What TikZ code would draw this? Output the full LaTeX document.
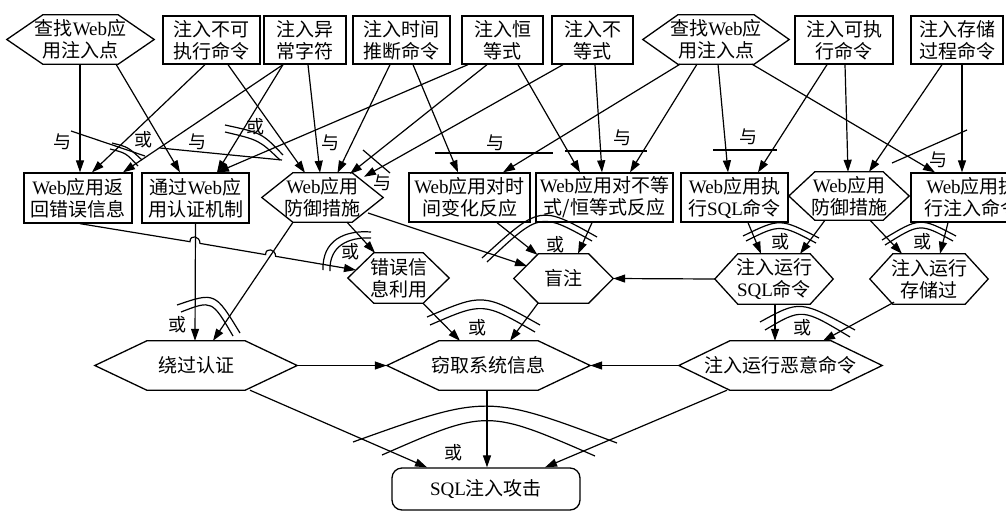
\documentclass[tikz,border=0pt]{standalone}
\usepackage{fontspec}
\setmainfont{Noto Sans CJK SC}
\newfontfamily\latf{Liberation Serif}
\usetikzlibrary{arrows.meta,calc}
\newcommand\Wb{{\latf Web}}
\newcommand\Sq{{\latf SQL}}
\newcommand\hexo[2]{\draw[hexline] (#1.west) -- ([xshift=#2]#1.north west) -- ([xshift=-#2]#1.north east) -- (#1.east) -- ([xshift=-#2]#1.south east) -- ([xshift=#2]#1.south west) -- cycle;}
\begin{document}
\begin{tikzpicture}[x=1pt,y=-1pt,
  box/.style={draw, line width=1.3pt, inner sep=0pt, align=center, font=\fontsize{19}{22}\selectfont},
  hexn/.style={inner sep=0pt, align=center, font=\fontsize{19}{22}\selectfont},
  hexline/.style={line width=1.3pt, line join=miter},
  arr/.style={line width=1.2pt, -{Triangle[length=12pt,width=8pt]}},
  bar/.style={line width=1.2pt},
  lab/.style={font=\fontsize{18}{18}\selectfont, inner sep=0pt}]
\useasboundingbox (0,0) rectangle (1006,512);
% top row
\node[hexn, minimum width=147pt, minimum height=49pt] (T1) at (80.5,39.5) {查找\Wb 应\\用注入点};
\hexo{T1}{36}
\node[box, minimum width=97pt, minimum height=48pt] (T2) at (211.5,40) {注入不可\\执行命令};
\node[box, minimum width=82pt, minimum height=48pt] (T3) at (305,40) {注入异\\常字符};
\node[box, minimum width=97pt, minimum height=48pt] (T4) at (401.5,40) {注入时间\\推断命令};
\node[box, minimum width=81pt, minimum height=48pt] (T5) at (502.5,40) {注入恒\\等式};
\node[box, minimum width=81pt, minimum height=48pt] (T6) at (592.5,40) {注入不\\等式};
\node[hexn, minimum width=146pt, minimum height=49pt] (T7) at (716,39.5) {查找\Wb 应\\用注入点};
\hexo{T7}{35}
\node[box, minimum width=98pt, minimum height=48pt] (T8) at (844,40) {注入可执\\行命令};
\node[box, minimum width=92pt, minimum height=48pt] (T9) at (957,40) {注入存储\\过程命令};
% middle row
\node[box, minimum width=108pt, minimum height=50pt] (M1) at (78,198) {\Wb 应用返\\回错误信息};
\node[box, minimum width=107pt, minimum height=50pt] (M2) at (195.5,198) {通过\Wb 应\\用认证机制};
\node[hexn, minimum width=121pt, minimum height=49pt] (M3) at (322.5,197.5) {\Wb 应用\\防御措施};
\hexo{M3}{31}
\node[box, minimum width=121pt, minimum height=49pt] (M4) at (469.5,197.5) {\Wb 应用对时\\间变化反应};
\node[box, minimum width=137pt, minimum height=49pt] (M5) at (604.5,197.5) {\Wb 应用对不等\\式/恒等式反应};
\node[box, minimum width=107pt, minimum height=49pt] (M6) at (734.5,197.5) {\Wb 应用执\\行\Sq 命令};
\node[hexn, minimum width=120pt, minimum height=48pt] (M7) at (849,196) {\Wb 应用\\防御措施};
\hexo{M7}{26}
\node[box, minimum width=122pt, minimum height=49pt] (M8) at (972,197.5) {\Wb 应用执\\行注入命令};
% third row
\node[hexn, minimum width=101pt, minimum height=50pt] (R1) at (398.5,278) {错误信\\息利用};
\hexo{R1}{26}
\node[hexn, minimum width=99pt, minimum height=49pt] (R2) at (563.5,278.5) {盲注};
\hexo{R2}{24.5}
\node[hexn, minimum width=118pt, minimum height=50pt] (R3) at (774,279) {注入运行\\\Sq 命令};
\hexo{R3}{23}
\node[hexn, minimum width=118pt, minimum height=50pt] (R4) at (929,279) {注入运行\\存储过};
\hexo{R4}{23}
% fourth row
\node[hexn, minimum width=202pt, minimum height=49pt] (F1) at (196,365.5) {绕过认证};
\hexo{F1}{52}
\node[hexn, minimum width=203pt, minimum height=49pt] (F2) at (488.5,365.5) {窃取系统信息};
\hexo{F2}{52}
\node[hexn, minimum width=203pt, minimum height=49pt] (F3) at (780.5,365.5) {注入运行恶意命令};
\hexo{F3}{51}
\node[box, rounded corners=10pt, minimum width=188pt, minimum height=42pt] (S) at (486,489) {\Sq 注入攻击};
% arrows top -> middle
\draw[arr] ($(T1.south)+(-0.5,0)$) -- ($(M1.north)+(2,0)$);
\draw[arr] ($(T1.south)+(35.5,0)$) -- ($(M2.north)+(-15.5,0)$);
\draw[arr] ($(T2.south)+(-6.5,0)$) -- ($(M1.north)+(14,0)$);
\draw[arr] ($(T2.south)+(16.5,0)$) -- ($(M3.north)+(-17.5,0)$);
\draw[arr] ($(T3.south)+(-22,0)$) -- ($(M1.north)+(45,0)$);
\draw[arr] ($(T3.south)+(-22,0)$) -- ($(M2.north)+(21.5,0)$);
\draw[arr] ($(T3.south)+(3,0)$) -- ($(M3.north)+(-2.5,0)$);
\draw[arr] ($(T4.south)+(-11.5,0)$) -- ($(M3.north)+(15,0)$);
\draw[arr] ($(T4.south)+(11.5,0)$) -- ($(M4.north)+(-11.5,0)$);
\draw[arr] ($(T5.south)+(-34.5,0)$) -- ($(M2.north)+(21.5,0)$);
\draw[arr] ($(T5.south)+(-15.5,0)$) -- ($(M3.north)+(27.5,1)$);
\draw[arr] ($(T5.south)+(15.5,0)$) -- ($(M5.north)+(-24.5,0)$);
\draw[arr] ($(T6.south)+(-29.5,0)$) -- ($(M3.north)+(41.5,4)$);
\draw[arr] ($(T6.south)+(2.5,0)$) -- ($(M5.north)+(-2.5,0)$);
\draw[arr] ($(T7.south)+(-36,0)$) -- ($(M4.north)+(33.5,0)$);
\draw[arr] ($(T7.south)+(-19,0)$) -- ($(M5.north)+(25.5,0)$);
\draw[arr] ($(T7.south)+(2,0)$) -- ($(M6.north)+(-6.5,0)$);
\draw[arr] ($(T7.south)+(36,0)$) -- ($(M8.north)+(-37,0)$);
\draw[arr] ($(T8.south)+(-17,0)$) -- ($(M6.north)+(23.5,0)$);
\draw[arr] ($(T8.south)+(1,0)$) -- ($(M7.north)+(-1,0)$);
\draw[arr] ($(T9.south)+(-15,0)$) -- ($(M7.north)+(20,0)$);
\draw[arr] ($(T9.south)+(5,0)$) -- ($(M8.north)+(-10,0)$);
% middle -> third
\draw[arr] ($(M1.south)+(2,0)$) -- (190,241.7) .. controls (190,234) and (200,236) .. (200,243.4) -- (265.6,254.6) .. controls (265.6,247) and (275.6,249) .. (275.6,256.3) -- ($(R1)+(-42.5,-8)$);
\draw[arr] (M2.south) -- ($(F1.north)+(-1,0)$);
\draw[arr] ($(M3.south)+(-29.5,0)$) -- ($(F1.north)+(17,0)$);
\draw[arr] ($(M3.south)+(24.5,0)$) -- ($(R1.north)+(-23.5,0)$);
\draw[arr] ($(M3)+(45.5,15.5)$) -- ($(R2)+(-36.5,-12.5)$);
\draw[arr] ($(M4.south)+(27.5,0)$) -- ($(R2.north)+(-26,1)$);
\draw[arr] ($(M5.south)+(-12.5,0)$) -- ($(R2.north)+(14.5,0)$);
\draw[arr] (R3.west) -- (R2.east);
\draw[arr] ($(M6.south)+(13.5,0)$) -- ($(R3.north)+(-13,0)$);
\draw[arr] ($(M7.south)+(-24,0)$) -- ($(R3.north)+(26,0)$);
\draw[arr] ($(M7.south)+(21,0)$) -- ($(R4.north)+(-27,0)$);
\draw[arr] ($(M8.south)+(-24,0)$) -- ($(R4.north)+(11,0)$);
% third -> fourth
\draw[arr] ($(R3.south)+(1,0)$) -- ($(F3.north)+(-5.5,0)$);
\draw[arr] ($(R4.south)+(-35,-2)$) -- ($(F3.north)+(42.5,0)$);
\draw[arr] ($(R1.south)+(24.5,0)$) -- ($(F2.north)+(-28.5,0)$);
\draw[arr] ($(R2.south)+(-25.5,0)$) -- ($(F2.north)+(21.5,0)$);
\draw[arr] (F1.east) -- (F2.west);
\draw[arr] (F3.west) -- (F2.east);
% fourth -> root
\draw[arr] ($(F2.south)+(-1.5,0)$) -- ($(S.north)+(1,0)$);
\draw[arr] ($(F1.south)+(54,0)$) -- ($(S.north)+(-59,0)$);
\draw[arr] ($(F3.south)+(-53.5,0)$) -- ($(S.north)+(59,0)$);
% AND bars
\draw[bar] (71,131) -- (145,156);
\draw[bar] (160,148) -- (282,160);
\draw[bar] (363,150) -- (390,173);
\draw[bar] (435,153) -- (553,153);
\draw[bar] (565,151) -- (647,151);
\draw[bar] (713,150) -- (777,150);
\draw[bar] (892,163) -- (967,130);
% OR arcs
\draw[bar] (112,143) .. controls (128,147) .. (142,160);
\draw[bar] (110,149) .. controls (126,153) .. (138,166);
\draw[bar] (225,125) .. controls (262,133) .. (283,155);
\draw[bar] (225,132) .. controls (259,140) .. (280,160);
\draw[bar] (177,305) .. controls (215,292) .. (240,333);
\draw[bar] (181,312) .. controls (212,300) .. (233,336);
\draw[bar] (323,270) .. controls (322,240) and (345,230) .. (371,232);
\draw[bar] (330,271) .. controls (329,246) and (348,237) .. (371,238);
\draw[bar] (482,258) .. controls (540,205) .. (597,237);
\draw[bar] (487,262) .. controls (540,212) .. (592,241);
\draw[bar] (743,236) .. controls (780,218) .. (819,238);
\draw[bar] (746,241) .. controls (780,224) .. (816,243);
\draw[bar] (882,240) .. controls (920,217) .. (956,236);
\draw[bar] (885,245) .. controls (920,223) .. (953,241);
\draw[bar] (427,317) .. controls (483,293) .. (540,325);
\draw[bar] (430,325) .. controls (483,302) .. (535,332);
\draw[bar] (760,322) .. controls (800,300) .. (855,330);
\draw[bar] (765,330) .. controls (802,308) .. (850,337);
\draw[bar] (353,442) .. controls (487,394) .. (617,443);
\draw[bar] (382,455) .. controls (487,409) .. (595,456);
% labels
\node[lab] (l1) at (62,142) {与};
\node[lab] (l2) at (143,140) {或};
\node[lab] (l3) at (197,142) {与};
\node[lab] (l4) at (255,127) {或};
\node[lab] (l5) at (330,143) {与};
\node[lab] (l6) at (382,183) {与};
\node[lab] (l7) at (495,143) {与};
\node[lab] (l8) at (622,138) {与};
\node[lab] (l9) at (748,137) {与};
\node[lab] (l10) at (938,160) {与};
\node[lab] (l11) at (177,325) {或};
\node[lab] (l12) at (350,252) {或};
\node[lab] (l13) at (555,245) {或};
\node[lab] (l14) at (780,242) {或};
\node[lab] (l15) at (922,242) {或};
\node[lab] (l16) at (477,328) {或};
\node[lab] (l17) at (802,328) {或};
\node[lab] (l18) at (453,453) {或};
\end{tikzpicture}
\end{document}
